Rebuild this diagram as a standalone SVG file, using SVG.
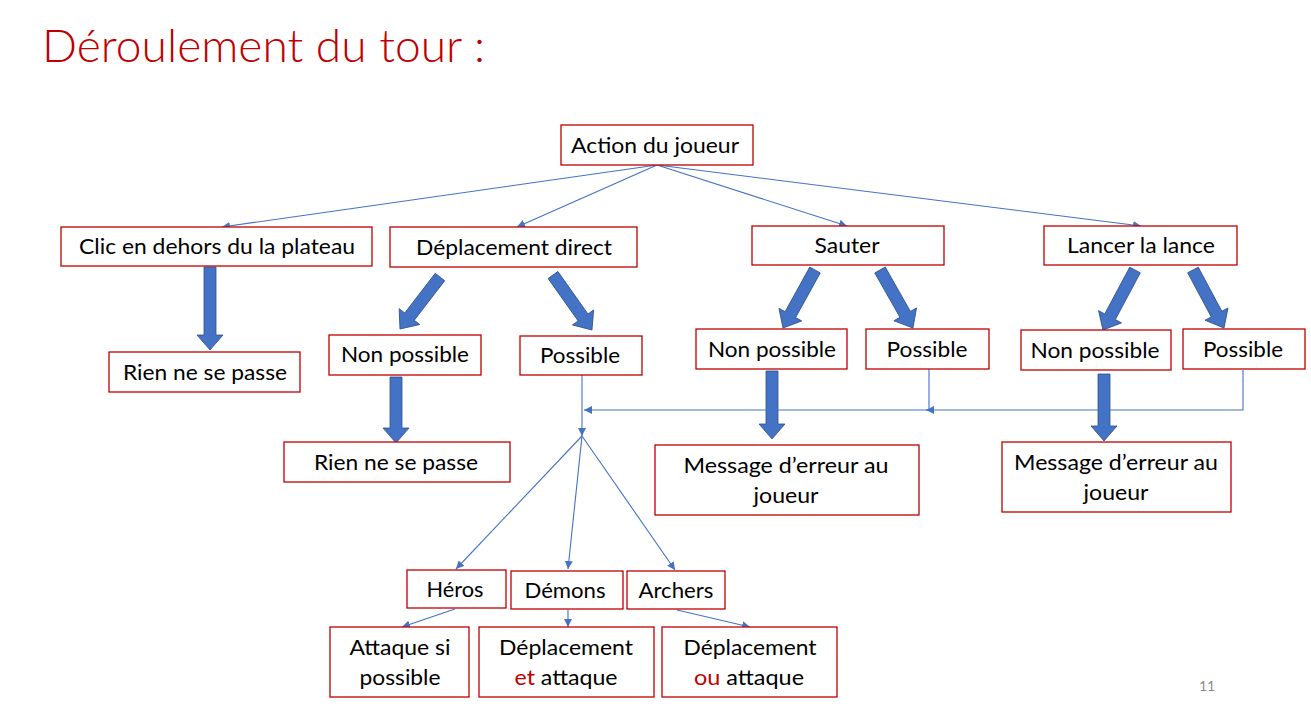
<svg xmlns="http://www.w3.org/2000/svg" width="1311" height="707" viewBox="0 0 1311 707">
<style>
  .box rect { fill: #fff; stroke: #C00000; stroke-width: 1.3; }
  .box text { font-family: Lato, "Open Sans", "Liberation Sans", sans-serif; font-size: 21px; fill: #000; text-anchor: middle; lengthAdjust: spacingAndGlyphs; }
  .red { fill: #C00000; }
  .thin { stroke: #4472C4; stroke-width: 1.1; fill: none; marker-end: url(#ah); }
  .line { stroke: #4472C4; stroke-width: 1.1; fill: none; }
  .blk { fill: #4472C4; stroke: #2F528F; stroke-width: 0.8; }
</style>
<defs>
  <marker id="ah" viewBox="0 0 10 10" refX="10" refY="5" markerWidth="8" markerHeight="8" markerUnits="userSpaceOnUse" orient="auto">
    <path d="M0,0 L10,5 L0,10 Z" fill="#4472C4"/>
  </marker>
</defs>
<rect width="1311" height="707" fill="#fff"/>
<text x="42" y="62" font-family="Lato, 'Open Sans', 'Liberation Sans', sans-serif" font-weight="300" font-size="46" fill="#C00000" textLength="443" lengthAdjust="spacingAndGlyphs">Déroulement du tour :</text>
<text x="1207" y="691" font-family="Lato, 'Liberation Sans', sans-serif" font-size="14" fill="#8C8C8C" text-anchor="middle">11</text>

<g id="connectors">
  <line class="thin" x1="657" y1="165" x2="222" y2="227"/>
  <line class="thin" x1="657" y1="165" x2="517" y2="227"/>
  <line class="thin" x1="657" y1="165" x2="847" y2="226"/>
  <line class="thin" x1="657" y1="165" x2="1141" y2="226"/>
  <path class="blk" transform="translate(210,267) rotate(90)" d="M0,-6 L68,-6 L68,-13 L83,0 L68,13 L68,6 L0,6 Z"/>
  <path class="blk" transform="translate(440,277) rotate(127.6)" d="M0,-6 L50,-6 L50,-13 L65.6,0 L50,13 L50,6 L0,6 Z"/>
  <path class="blk" transform="translate(553,275) rotate(54.7)" d="M0,-6 L52,-6 L52,-13 L67.4,0 L52,13 L52,6 L0,6 Z"/>
  <path class="blk" transform="translate(815,270) rotate(118.9)" d="M0,-6 L51,-6 L51,-13 L66.2,0 L51,13 L51,6 L0,6 Z"/>
  <path class="blk" transform="translate(880,270) rotate(60.4)" d="M0,-6 L51,-6 L51,-13 L66.7,0 L51,13 L51,6 L0,6 Z"/>
  <path class="blk" transform="translate(1135,270) rotate(118.1)" d="M0,-6 L53,-6 L53,-13 L68,0 L53,13 L53,6 L0,6 Z"/>
  <path class="blk" transform="translate(1193,270) rotate(61.9)" d="M0,-6 L50,-6 L50,-13 L65.8,0 L50,13 L50,6 L0,6 Z"/>
  <path class="blk" transform="translate(396,377) rotate(90)" d="M0,-6 L51,-6 L51,-13 L66,0 L51,13 L51,6 L0,6 Z"/>
  <path class="blk" transform="translate(772,371) rotate(90)" d="M0,-6 L53,-6 L53,-13 L68,0 L53,13 L53,6 L0,6 Z"/>
  <path class="blk" transform="translate(1104,374) rotate(90)" d="M0,-6 L52,-6 L52,-13 L67,0 L52,13 L52,6 L0,6 Z"/>
  <line class="thin" x1="582" y1="375" x2="582" y2="436"/>
  <polyline class="line" points="1243,370 1243,410 929,410"/>
  <line class="thin" x1="929" y1="410" x2="584" y2="410"/>
  <polyline class="thin" points="929,369 929,410 926,410"/>
  <line class="thin" x1="582" y1="436" x2="456" y2="569"/>
  <line class="thin" x1="582" y1="436" x2="568" y2="569"/>
  <line class="thin" x1="582" y1="436" x2="675" y2="570"/>
  <line class="thin" x1="455" y1="609" x2="402" y2="627"/>
  <line class="thin" x1="568" y1="610" x2="568" y2="627"/>
  <line class="thin" x1="677" y1="610" x2="750" y2="627"/>
</g>

<g id="n-action" class="box"><rect x="561" y="125" width="192" height="40"/><text x="655" y="153" textLength="168" lengthAdjust="spacingAndGlyphs">Action du joueur</text></g>
<g id="n-clic" class="box"><rect x="61" y="227" width="311" height="39"/><text x="217" y="254" textLength="276" lengthAdjust="spacingAndGlyphs">Clic en dehors du la plateau</text></g>
<g id="n-deplacement" class="box"><rect x="390" y="227" width="247" height="40"/><text x="514" y="255" textLength="196" lengthAdjust="spacingAndGlyphs">Déplacement direct</text></g>
<g id="n-sauter" class="box"><rect x="752" y="226" width="192" height="39"/><text x="847" y="253" textLength="65" lengthAdjust="spacingAndGlyphs">Sauter</text></g>
<g id="n-lancer" class="box"><rect x="1044" y="226" width="193" height="39"/><text x="1141" y="253" textLength="148" lengthAdjust="spacingAndGlyphs">Lancer la lance</text></g>
<g id="n-rien1" class="box"><rect x="109" y="352" width="191" height="40"/><text x="205" y="380" textLength="164" lengthAdjust="spacingAndGlyphs">Rien ne se passe</text></g>
<g id="n-nonposs1" class="box"><rect x="329" y="335" width="152" height="40"/><text x="405" y="362" textLength="128" lengthAdjust="spacingAndGlyphs">Non possible</text></g>
<g id="n-poss1" class="box"><rect x="520" y="336" width="122" height="39"/><text x="580" y="363" textLength="80" lengthAdjust="spacingAndGlyphs">Possible</text></g>
<g id="n-nonposs2" class="box"><rect x="696" y="329" width="151" height="40"/><text x="772" y="357" textLength="128" lengthAdjust="spacingAndGlyphs">Non possible</text></g>
<g id="n-poss2" class="box"><rect x="866" y="329" width="123" height="40"/><text x="927" y="357" textLength="81" lengthAdjust="spacingAndGlyphs">Possible</text></g>
<g id="n-nonposs3" class="box"><rect x="1021" y="330" width="150" height="40"/><text x="1095" y="358" textLength="129" lengthAdjust="spacingAndGlyphs">Non possible</text></g>
<g id="n-poss3" class="box"><rect x="1183" y="329" width="122" height="40"/><text x="1243" y="357" textLength="80" lengthAdjust="spacingAndGlyphs">Possible</text></g>
<g id="n-rien2" class="box"><rect x="284" y="442" width="226" height="40"/><text x="396" y="470" textLength="164" lengthAdjust="spacingAndGlyphs">Rien ne se passe</text></g>
<g id="n-msg1" class="box"><rect x="655" y="445" width="264" height="70"/><text x="786" y="473" textLength="205" lengthAdjust="spacingAndGlyphs">Message d’erreur au</text><text x="786" y="503" textLength="65" lengthAdjust="spacingAndGlyphs">joueur</text></g>
<g id="n-msg2" class="box"><rect x="1002" y="442" width="229" height="70"/><text x="1116" y="470" textLength="204" lengthAdjust="spacingAndGlyphs">Message d’erreur au</text><text x="1116" y="500" textLength="65" lengthAdjust="spacingAndGlyphs">joueur</text></g>
<g id="n-heros" class="box"><rect x="407" y="570" width="99" height="38"/><text x="455" y="597" textLength="57" lengthAdjust="spacingAndGlyphs">Héros</text></g>
<g id="n-demons" class="box"><rect x="511" y="571" width="112" height="38"/><text x="565" y="598" textLength="81" lengthAdjust="spacingAndGlyphs">Démons</text></g>
<g id="n-archers" class="box"><rect x="627" y="571" width="98" height="38"/><text x="676" y="598" textLength="75" lengthAdjust="spacingAndGlyphs">Archers</text></g>
<g id="n-attaque" class="box"><rect x="330" y="627" width="139" height="70"/><text x="400" y="655" textLength="101" lengthAdjust="spacingAndGlyphs">Attaque si</text><text x="400" y="685" textLength="81" lengthAdjust="spacingAndGlyphs">possible</text></g>
<g id="n-depl-et" class="box"><rect x="479" y="627" width="175" height="70"/><text x="566" y="655" textLength="134" lengthAdjust="spacingAndGlyphs">Déplacement</text><text x="566" y="685" textLength="103" lengthAdjust="spacingAndGlyphs"><tspan class="red">et</tspan> attaque</text></g>
<g id="n-depl-ou" class="box"><rect x="662" y="627" width="175" height="70"/><text x="750" y="655" textLength="133" lengthAdjust="spacingAndGlyphs">Déplacement</text><text x="749" y="685" textLength="110" lengthAdjust="spacingAndGlyphs"><tspan class="red">ou</tspan> attaque</text></g>
</svg>
